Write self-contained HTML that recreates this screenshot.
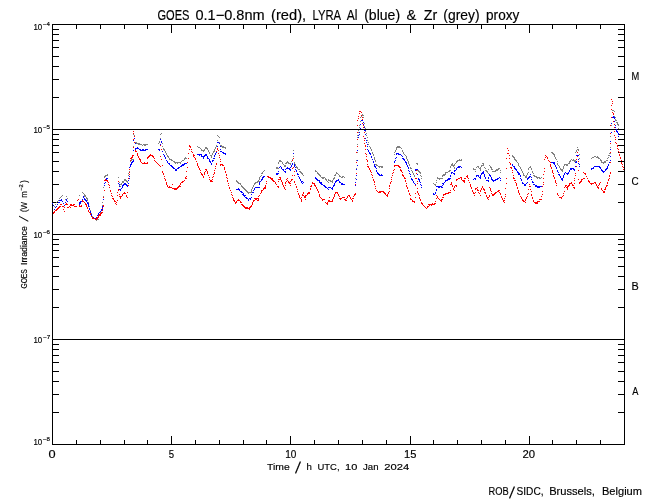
<!DOCTYPE html>
<html lang="en"><head><meta charset="utf-8"><title>GOES / LYRA proxy</title>
<style>html,body{margin:0;padding:0;background:#fff;}body{width:650px;height:500px;overflow:hidden;}svg{display:block;}text{font-family:"Liberation Sans",sans-serif;fill:#000;stroke:#000;stroke-width:0.16px;}</style>
</head><body>
<svg width="650" height="500" viewBox="0 0 650 500">
<rect width="650" height="500" fill="#fff"/>
<path shape-rendering="crispEdges" fill="#000" d="M52 24h573v1h-573zM52 444h573v1h-573zM52 24h1v421h-1zM624 24h1v421h-1zM76 440h1v4h-1zM76 25h1v4h-1zM100 440h1v4h-1zM100 25h1v4h-1zM124 440h1v4h-1zM124 25h1v4h-1zM147 440h1v4h-1zM147 25h1v4h-1zM171 436h1v8h-1zM171 25h1v8h-1zM195 440h1v4h-1zM195 25h1v4h-1zM219 440h1v4h-1zM219 25h1v4h-1zM243 440h1v4h-1zM243 25h1v4h-1zM266 440h1v4h-1zM266 25h1v4h-1zM290 436h1v8h-1zM290 25h1v8h-1zM314 440h1v4h-1zM314 25h1v4h-1zM338 440h1v4h-1zM338 25h1v4h-1zM362 440h1v4h-1zM362 25h1v4h-1zM386 440h1v4h-1zM386 25h1v4h-1zM410 436h1v8h-1zM410 25h1v8h-1zM433 440h1v4h-1zM433 25h1v4h-1zM457 440h1v4h-1zM457 25h1v4h-1zM481 440h1v4h-1zM481 25h1v4h-1zM505 440h1v4h-1zM505 25h1v4h-1zM529 436h1v8h-1zM529 25h1v8h-1zM552 440h1v4h-1zM552 25h1v4h-1zM576 440h1v4h-1zM576 25h1v4h-1zM600 440h1v4h-1zM600 25h1v4h-1zM53 97h6v1h-6zM618 97h6v1h-6zM53 79h6v1h-6zM618 79h6v1h-6zM53 66h6v1h-6zM618 66h6v1h-6zM53 56h6v1h-6zM618 56h6v1h-6zM53 47h6v1h-6zM618 47h6v1h-6zM53 40h6v1h-6zM618 40h6v1h-6zM53 34h6v1h-6zM618 34h6v1h-6zM53 29h6v1h-6zM618 29h6v1h-6zM52 129h573v1h-573zM53 202h6v1h-6zM618 202h6v1h-6zM53 184h6v1h-6zM618 184h6v1h-6zM53 171h6v1h-6zM618 171h6v1h-6zM53 161h6v1h-6zM618 161h6v1h-6zM53 152h6v1h-6zM618 152h6v1h-6zM53 145h6v1h-6zM618 145h6v1h-6zM53 139h6v1h-6zM618 139h6v1h-6zM53 134h6v1h-6zM618 134h6v1h-6zM52 234h573v1h-573zM53 307h6v1h-6zM618 307h6v1h-6zM53 289h6v1h-6zM618 289h6v1h-6zM53 276h6v1h-6zM618 276h6v1h-6zM53 266h6v1h-6zM618 266h6v1h-6zM53 257h6v1h-6zM618 257h6v1h-6zM53 250h6v1h-6zM618 250h6v1h-6zM53 244h6v1h-6zM618 244h6v1h-6zM53 239h6v1h-6zM618 239h6v1h-6zM52 339h573v1h-573zM53 412h6v1h-6zM618 412h6v1h-6zM53 394h6v1h-6zM618 394h6v1h-6zM53 381h6v1h-6zM618 381h6v1h-6zM53 371h6v1h-6zM618 371h6v1h-6zM53 362h6v1h-6zM618 362h6v1h-6zM53 355h6v1h-6zM618 355h6v1h-6zM53 349h6v1h-6zM618 349h6v1h-6zM53 344h6v1h-6zM618 344h6v1h-6z"/>
<path shape-rendering="crispEdges" fill="#808080" d="M54 206h1v1h-1zM55 204h1v1h-1zM56 202h1v1h-1zM57 201h1v1h-1zM58 200h1v1h-1zM59 198h1v1h-1zM60 197h1v1h-1zM61 196h1v1h-1zM62 195h1v1h-1zM65 199h1v1h-1zM66 196h1v1h-1zM67 198h1v1h-1zM79 195h1v1h-1zM82 192h1v1h-1zM83 193h1v1h-1zM84 194h1v1h-1zM84 195h1v1h-1zM84 196h1v1h-1zM85 195h1v1h-1zM85 196h1v1h-1zM86 197h1v1h-1zM86 198h1v1h-1zM87 198h1v1h-1zM87 199h1v1h-1zM87 200h1v1h-1zM88 202h1v1h-1zM88 204h1v1h-1zM89 206h1v1h-1zM89 208h1v1h-1zM90 210h1v1h-1zM90 211h1v1h-1zM90 212h1v1h-1zM91 213h1v1h-1zM91 215h1v1h-1zM92 216h1v1h-1zM92 217h1v1h-1zM93 217h1v1h-1zM93 218h1v1h-1zM94 218h1v1h-1zM95 219h1v1h-1zM96 219h1v1h-1zM96 220h1v1h-1zM97 219h1v1h-1zM98 216h1v1h-1zM98 217h1v1h-1zM98 219h1v1h-1zM99 214h1v1h-1zM99 215h1v1h-1zM100 211h1v1h-1zM100 212h1v1h-1zM100 213h1v1h-1zM101 209h1v1h-1zM101 210h1v1h-1zM102 202h1v1h-1zM102 205h1v1h-1zM102 208h1v1h-1zM103 187h1v1h-1zM103 196h1v1h-1zM103 199h1v1h-1zM104 176h1v1h-1zM104 177h1v1h-1zM105 175h1v1h-1zM105 176h1v1h-1zM106 175h1v1h-1zM107 174h1v1h-1zM107 175h1v1h-1zM118 177h1v1h-1zM119 182h1v1h-1zM119 185h1v1h-1zM119 186h1v1h-1zM120 184h1v1h-1zM120 186h1v1h-1zM121 183h1v1h-1zM121 184h1v1h-1zM122 181h1v1h-1zM122 182h1v1h-1zM123 181h1v1h-1zM123 182h1v1h-1zM124 179h1v1h-1zM124 180h1v1h-1zM125 179h1v1h-1zM125 180h1v1h-1zM126 180h1v1h-1zM126 181h1v1h-1zM127 181h1v1h-1zM127 182h1v1h-1zM128 173h1v1h-1zM128 175h1v1h-1zM128 178h1v1h-1zM129 169h1v1h-1zM129 171h1v1h-1zM130 160h1v1h-1zM130 161h1v1h-1zM130 166h1v1h-1zM131 159h1v1h-1zM131 160h1v1h-1zM132 159h1v1h-1zM133 134h1v1h-1zM133 146h1v1h-1zM133 159h1v1h-1zM134 135h1v1h-1zM134 136h1v1h-1zM135 142h1v1h-1zM135 143h1v1h-1zM136 142h1v1h-1zM136 143h1v1h-1zM137 143h1v1h-1zM138 143h1v1h-1zM138 144h1v1h-1zM139 143h1v1h-1zM139 144h1v1h-1zM140 144h1v1h-1zM141 144h1v1h-1zM142 145h1v1h-1zM143 144h1v1h-1zM144 144h1v1h-1zM144 145h1v1h-1zM145 144h1v1h-1zM145 145h1v1h-1zM146 144h1v1h-1zM147 144h1v1h-1zM158 143h1v1h-1zM159 141h1v1h-1zM159 142h1v1h-1zM160 134h1v1h-1zM160 138h1v1h-1zM160 139h1v1h-1zM161 133h1v1h-1zM161 141h1v1h-1zM162 143h1v1h-1zM162 146h1v1h-1zM163 148h1v1h-1zM163 149h1v1h-1zM164 149h1v1h-1zM164 150h1v1h-1zM165 151h1v1h-1zM165 152h1v1h-1zM166 153h1v1h-1zM166 154h1v1h-1zM167 155h1v1h-1zM167 156h1v1h-1zM168 156h1v1h-1zM168 157h1v1h-1zM169 158h1v1h-1zM169 159h1v1h-1zM170 159h1v1h-1zM171 159h1v1h-1zM171 160h1v1h-1zM172 160h1v1h-1zM173 161h1v1h-1zM174 161h1v1h-1zM174 162h1v1h-1zM175 162h1v1h-1zM175 163h1v1h-1zM176 162h1v1h-1zM177 162h1v1h-1zM177 163h1v1h-1zM178 162h1v1h-1zM179 162h1v1h-1zM180 162h1v1h-1zM180 163h1v1h-1zM181 161h1v1h-1zM182 160h1v1h-1zM183 160h1v1h-1zM184 158h1v1h-1zM184 159h1v1h-1zM185 157h1v1h-1zM185 158h1v1h-1zM186 158h1v1h-1zM197 146h1v1h-1zM198 147h1v1h-1zM199 147h1v1h-1zM200 148h1v1h-1zM201 149h1v1h-1zM201 150h1v1h-1zM202 150h1v1h-1zM203 150h1v1h-1zM203 151h1v1h-1zM204 149h1v1h-1zM204 150h1v1h-1zM205 147h1v1h-1zM205 148h1v1h-1zM206 147h1v1h-1zM206 148h1v1h-1zM207 148h1v1h-1zM207 149h1v1h-1zM208 150h1v1h-1zM208 151h1v1h-1zM209 152h1v1h-1zM209 153h1v1h-1zM210 155h1v1h-1zM211 155h1v1h-1zM211 156h1v1h-1zM211 157h1v1h-1zM212 153h1v1h-1zM212 154h1v1h-1zM213 151h1v1h-1zM213 152h1v1h-1zM214 149h1v1h-1zM214 150h1v1h-1zM214 151h1v1h-1zM215 147h1v1h-1zM215 148h1v1h-1zM216 145h1v1h-1zM216 146h1v1h-1zM217 135h1v1h-1zM217 140h1v1h-1zM218 136h1v1h-1zM219 137h1v1h-1zM219 142h1v1h-1zM220 145h1v1h-1zM221 145h1v1h-1zM221 146h1v1h-1zM222 146h1v1h-1zM222 147h1v1h-1zM223 146h1v1h-1zM223 147h1v1h-1zM224 147h1v1h-1zM225 147h1v1h-1zM225 148h1v1h-1zM236 180h1v1h-1zM236 181h1v1h-1zM237 181h1v1h-1zM237 182h1v1h-1zM238 182h1v1h-1zM238 183h1v1h-1zM239 183h1v1h-1zM240 183h1v1h-1zM240 184h1v1h-1zM241 185h1v1h-1zM241 186h1v1h-1zM242 186h1v1h-1zM242 187h1v1h-1zM243 187h1v1h-1zM243 188h1v1h-1zM244 188h1v1h-1zM244 189h1v1h-1zM245 189h1v1h-1zM245 190h1v1h-1zM246 190h1v1h-1zM246 191h1v1h-1zM247 191h1v1h-1zM247 192h1v1h-1zM248 192h1v1h-1zM248 193h1v1h-1zM249 192h1v1h-1zM250 192h1v1h-1zM251 189h1v1h-1zM251 190h1v1h-1zM251 191h1v1h-1zM251 192h1v1h-1zM252 187h1v1h-1zM252 188h1v1h-1zM253 185h1v1h-1zM253 186h1v1h-1zM254 183h1v1h-1zM254 184h1v1h-1zM255 182h1v1h-1zM255 183h1v1h-1zM256 182h1v1h-1zM257 181h1v1h-1zM257 182h1v1h-1zM258 180h1v1h-1zM258 181h1v1h-1zM259 177h1v1h-1zM259 178h1v1h-1zM259 179h1v1h-1zM259 181h1v1h-1zM260 176h1v1h-1zM261 173h1v1h-1zM261 175h1v1h-1zM262 172h1v1h-1zM262 173h1v1h-1zM263 171h1v1h-1zM264 170h1v1h-1zM276 167h1v1h-1zM276 168h1v1h-1zM277 167h1v1h-1zM277 168h1v1h-1zM278 162h1v1h-1zM278 163h1v1h-1zM278 168h1v1h-1zM279 160h1v1h-1zM279 161h1v1h-1zM280 160h1v1h-1zM280 161h1v1h-1zM281 161h1v1h-1zM282 162h1v1h-1zM282 163h1v1h-1zM283 164h1v1h-1zM284 165h1v1h-1zM284 166h1v1h-1zM285 163h1v1h-1zM285 165h1v1h-1zM285 166h1v1h-1zM286 162h1v1h-1zM286 163h1v1h-1zM287 161h1v1h-1zM287 162h1v1h-1zM288 162h1v1h-1zM288 163h1v1h-1zM289 163h1v1h-1zM290 163h1v1h-1zM290 164h1v1h-1zM291 161h1v1h-1zM292 159h1v1h-1zM292 160h1v1h-1zM293 150h1v1h-1zM293 156h1v1h-1zM294 162h1v1h-1zM294 163h1v1h-1zM295 164h1v1h-1zM295 165h1v1h-1zM296 166h1v1h-1zM296 167h1v1h-1zM297 167h1v1h-1zM297 168h1v1h-1zM298 169h1v1h-1zM299 169h1v1h-1zM299 171h1v1h-1zM300 171h1v1h-1zM300 172h1v1h-1zM301 172h1v1h-1zM301 173h1v1h-1zM302 173h1v1h-1zM302 174h1v1h-1zM303 175h1v1h-1zM315 170h1v1h-1zM315 171h1v1h-1zM316 171h1v1h-1zM317 172h1v1h-1zM317 173h1v1h-1zM318 173h1v1h-1zM318 174h1v1h-1zM319 174h1v1h-1zM319 175h1v1h-1zM320 175h1v1h-1zM320 176h1v1h-1zM321 177h1v1h-1zM322 177h1v1h-1zM322 178h1v1h-1zM323 177h1v1h-1zM323 178h1v1h-1zM324 177h1v1h-1zM325 178h1v1h-1zM325 179h1v1h-1zM326 179h1v1h-1zM326 180h1v1h-1zM327 181h1v1h-1zM328 179h1v1h-1zM328 180h1v1h-1zM328 182h1v1h-1zM329 180h1v1h-1zM330 180h1v1h-1zM330 181h1v1h-1zM331 181h1v1h-1zM332 180h1v1h-1zM332 181h1v1h-1zM332 182h1v1h-1zM333 178h1v1h-1zM333 179h1v1h-1zM334 175h1v1h-1zM334 177h1v1h-1zM334 178h1v1h-1zM335 174h1v1h-1zM335 175h1v1h-1zM336 172h1v1h-1zM336 173h1v1h-1zM337 173h1v1h-1zM338 174h1v1h-1zM339 175h1v1h-1zM339 176h1v1h-1zM340 176h1v1h-1zM341 177h1v1h-1zM342 176h1v1h-1zM342 177h1v1h-1zM343 176h1v1h-1zM344 177h1v1h-1zM355 178h1v1h-1zM356 160h1v1h-1zM356 168h1v1h-1zM356 173h1v1h-1zM357 135h1v1h-1zM357 137h1v1h-1zM357 144h1v1h-1zM357 152h1v1h-1zM358 130h1v1h-1zM358 132h1v1h-1zM359 125h1v1h-1zM359 127h1v1h-1zM360 117h1v1h-1zM360 121h1v1h-1zM361 115h1v1h-1zM361 116h1v1h-1zM362 114h1v1h-1zM362 115h1v1h-1zM363 115h1v1h-1zM363 117h1v1h-1zM364 123h1v1h-1zM364 126h1v1h-1zM365 128h1v1h-1zM365 130h1v1h-1zM365 131h1v1h-1zM366 133h1v1h-1zM366 135h1v1h-1zM367 137h1v1h-1zM367 140h1v1h-1zM368 142h1v1h-1zM368 144h1v1h-1zM369 146h1v1h-1zM370 147h1v1h-1zM370 148h1v1h-1zM371 149h1v1h-1zM371 150h1v1h-1zM372 152h1v1h-1zM372 153h1v1h-1zM373 154h1v1h-1zM373 155h1v1h-1zM374 157h1v1h-1zM374 158h1v1h-1zM374 159h1v1h-1zM375 160h1v1h-1zM375 161h1v1h-1zM375 164h1v1h-1zM376 164h1v1h-1zM376 165h1v1h-1zM377 165h1v1h-1zM378 166h1v1h-1zM379 166h1v1h-1zM379 167h1v1h-1zM380 166h1v1h-1zM381 166h1v1h-1zM381 167h1v1h-1zM382 166h1v1h-1zM382 167h1v1h-1zM394 152h1v1h-1zM394 154h1v1h-1zM395 150h1v1h-1zM395 151h1v1h-1zM396 147h1v1h-1zM396 148h1v1h-1zM396 149h1v1h-1zM397 146h1v1h-1zM397 147h1v1h-1zM398 146h1v1h-1zM398 147h1v1h-1zM399 146h1v1h-1zM399 147h1v1h-1zM400 147h1v1h-1zM401 148h1v1h-1zM402 150h1v1h-1zM402 151h1v1h-1zM403 152h1v1h-1zM403 153h1v1h-1zM404 154h1v1h-1zM405 155h1v1h-1zM406 156h1v1h-1zM406 157h1v1h-1zM406 158h1v1h-1zM407 159h1v1h-1zM407 160h1v1h-1zM408 161h1v1h-1zM408 162h1v1h-1zM408 163h1v1h-1zM409 164h1v1h-1zM409 165h1v1h-1zM410 167h1v1h-1zM410 168h1v1h-1zM411 168h1v1h-1zM411 170h1v1h-1zM412 171h1v1h-1zM412 172h1v1h-1zM413 173h1v1h-1zM413 174h1v1h-1zM414 175h1v1h-1zM414 176h1v1h-1zM416 163h1v1h-1zM417 163h1v1h-1zM417 164h1v1h-1zM417 169h1v1h-1zM417 170h1v1h-1zM418 170h1v1h-1zM418 171h1v1h-1zM419 171h1v1h-1zM419 172h1v1h-1zM420 172h1v1h-1zM420 173h1v1h-1zM420 175h1v1h-1zM421 176h1v1h-1zM421 178h1v1h-1zM433 183h1v1h-1zM434 184h1v1h-1zM435 184h1v1h-1zM435 185h1v1h-1zM436 180h1v1h-1zM436 182h1v1h-1zM437 177h1v1h-1zM437 178h1v1h-1zM438 178h1v1h-1zM439 178h1v1h-1zM439 179h1v1h-1zM440 178h1v1h-1zM441 178h1v1h-1zM442 175h1v1h-1zM442 176h1v1h-1zM442 178h1v1h-1zM443 174h1v1h-1zM443 175h1v1h-1zM444 174h1v1h-1zM444 175h1v1h-1zM445 172h1v1h-1zM445 173h1v1h-1zM445 174h1v1h-1zM446 172h1v1h-1zM447 172h1v1h-1zM448 171h1v1h-1zM449 170h1v1h-1zM449 171h1v1h-1zM450 166h1v1h-1zM450 167h1v1h-1zM450 170h1v1h-1zM451 164h1v1h-1zM451 165h1v1h-1zM452 163h1v1h-1zM452 164h1v1h-1zM452 165h1v1h-1zM453 165h1v1h-1zM453 166h1v1h-1zM454 164h1v1h-1zM454 165h1v1h-1zM454 167h1v1h-1zM454 168h1v1h-1zM455 163h1v1h-1zM456 161h1v1h-1zM456 162h1v1h-1zM457 160h1v1h-1zM457 161h1v1h-1zM458 160h1v1h-1zM459 159h1v1h-1zM459 160h1v1h-1zM460 160h1v1h-1zM461 159h1v1h-1zM461 160h1v1h-1zM473 168h1v1h-1zM473 169h1v1h-1zM474 169h1v1h-1zM475 169h1v1h-1zM475 171h1v1h-1zM476 167h1v1h-1zM477 166h1v1h-1zM478 166h1v1h-1zM478 167h1v1h-1zM479 168h1v1h-1zM480 167h1v1h-1zM480 168h1v1h-1zM480 169h1v1h-1zM480 170h1v1h-1zM481 165h1v1h-1zM481 166h1v1h-1zM482 163h1v1h-1zM482 165h1v1h-1zM483 163h1v1h-1zM483 164h1v1h-1zM483 165h1v1h-1zM484 167h1v1h-1zM485 168h1v1h-1zM485 170h1v1h-1zM486 170h1v1h-1zM486 171h1v1h-1zM487 171h1v1h-1zM487 172h1v1h-1zM488 169h1v1h-1zM488 173h1v1h-1zM489 165h1v1h-1zM490 166h1v1h-1zM490 167h1v1h-1zM491 167h1v1h-1zM491 168h1v1h-1zM491 169h1v1h-1zM492 169h1v1h-1zM492 171h1v1h-1zM493 171h1v1h-1zM494 171h1v1h-1zM495 170h1v1h-1zM495 171h1v1h-1zM496 169h1v1h-1zM496 170h1v1h-1zM497 169h1v1h-1zM497 170h1v1h-1zM498 168h1v1h-1zM498 169h1v1h-1zM499 168h1v1h-1zM500 170h1v1h-1zM500 172h1v1h-1zM512 155h1v1h-1zM512 156h1v1h-1zM513 156h1v1h-1zM513 157h1v1h-1zM514 157h1v1h-1zM514 158h1v1h-1zM514 159h1v1h-1zM515 159h1v1h-1zM515 160h1v1h-1zM516 160h1v1h-1zM516 161h1v1h-1zM517 162h1v1h-1zM518 163h1v1h-1zM518 164h1v1h-1zM518 165h1v1h-1zM519 166h1v1h-1zM520 167h1v1h-1zM520 168h1v1h-1zM521 169h1v1h-1zM521 170h1v1h-1zM522 171h1v1h-1zM522 172h1v1h-1zM523 173h1v1h-1zM523 174h1v1h-1zM523 175h1v1h-1zM524 175h1v1h-1zM525 176h1v1h-1zM525 177h1v1h-1zM526 175h1v1h-1zM526 176h1v1h-1zM526 177h1v1h-1zM527 173h1v1h-1zM527 174h1v1h-1zM528 168h1v1h-1zM528 169h1v1h-1zM528 172h1v1h-1zM529 167h1v1h-1zM530 166h1v1h-1zM530 167h1v1h-1zM531 168h1v1h-1zM531 169h1v1h-1zM532 171h1v1h-1zM532 172h1v1h-1zM533 173h1v1h-1zM533 175h1v1h-1zM534 175h1v1h-1zM534 176h1v1h-1zM535 176h1v1h-1zM536 176h1v1h-1zM536 177h1v1h-1zM537 177h1v1h-1zM537 178h1v1h-1zM538 177h1v1h-1zM539 177h1v1h-1zM539 178h1v1h-1zM540 178h1v1h-1zM541 177h1v1h-1zM551 152h1v1h-1zM552 152h1v1h-1zM552 153h1v1h-1zM553 153h1v1h-1zM553 154h1v1h-1zM554 154h1v1h-1zM554 155h1v1h-1zM554 156h1v1h-1zM555 157h1v1h-1zM555 158h1v1h-1zM556 159h1v1h-1zM557 161h1v1h-1zM557 163h1v1h-1zM557 164h1v1h-1zM558 165h1v1h-1zM559 166h1v1h-1zM559 167h1v1h-1zM560 168h1v1h-1zM560 169h1v1h-1zM561 169h1v1h-1zM561 170h1v1h-1zM562 169h1v1h-1zM562 170h1v1h-1zM562 171h1v1h-1zM563 166h1v1h-1zM563 167h1v1h-1zM563 168h1v1h-1zM564 164h1v1h-1zM564 165h1v1h-1zM565 164h1v1h-1zM566 164h1v1h-1zM566 165h1v1h-1zM567 164h1v1h-1zM567 165h1v1h-1zM568 163h1v1h-1zM569 161h1v1h-1zM569 162h1v1h-1zM569 163h1v1h-1zM570 160h1v1h-1zM570 161h1v1h-1zM571 159h1v1h-1zM572 160h1v1h-1zM573 159h1v1h-1zM573 160h1v1h-1zM574 160h1v1h-1zM574 161h1v1h-1zM575 152h1v1h-1zM575 160h1v1h-1zM575 161h1v1h-1zM576 150h1v1h-1zM576 151h1v1h-1zM577 147h1v1h-1zM577 149h1v1h-1zM578 149h1v1h-1zM578 150h1v1h-1zM579 154h1v1h-1zM579 158h1v1h-1zM591 158h1v1h-1zM592 157h1v1h-1zM593 157h1v1h-1zM594 156h1v1h-1zM595 156h1v1h-1zM596 157h1v1h-1zM597 156h1v1h-1zM597 157h1v1h-1zM598 157h1v1h-1zM598 158h1v1h-1zM599 158h1v1h-1zM600 159h1v1h-1zM600 160h1v1h-1zM601 160h1v1h-1zM601 161h1v1h-1zM601 162h1v1h-1zM602 162h1v1h-1zM603 162h1v1h-1zM603 163h1v1h-1zM604 161h1v1h-1zM604 162h1v1h-1zM605 161h1v1h-1zM605 162h1v1h-1zM606 160h1v1h-1zM607 158h1v1h-1zM607 160h1v1h-1zM608 155h1v1h-1zM608 157h1v1h-1zM609 153h1v1h-1zM609 155h1v1h-1zM610 136h1v1h-1zM610 147h1v1h-1zM610 153h1v1h-1zM611 117h1v1h-1zM611 125h1v1h-1zM612 110h1v1h-1zM613 110h1v1h-1zM614 111h1v1h-1zM614 116h1v1h-1zM615 117h1v1h-1zM615 119h1v1h-1zM615 120h1v1h-1zM616 120h1v1h-1zM616 122h1v1h-1zM617 122h1v1h-1zM617 123h1v1h-1zM617 124h1v1h-1zM618 124h1v1h-1zM618 125h1v1h-1zM618 128h1v1h-1z"/>
<path shape-rendering="crispEdges" fill="#0000ff" d="M52 203h1v1h-1zM53 205h1v1h-1zM54 209h1v1h-1zM55 207h1v1h-1zM56 206h1v1h-1zM57 204h1v1h-1zM58 202h1v1h-1zM59 200h1v1h-1zM59 202h1v1h-1zM60 200h1v1h-1zM61 199h1v1h-1zM61 200h1v1h-1zM62 201h1v1h-1zM63 203h1v1h-1zM64 205h1v1h-1zM65 202h1v1h-1zM66 199h1v1h-1zM66 200h1v1h-1zM67 201h1v1h-1zM79 202h1v1h-1zM79 203h1v1h-1zM79 204h1v1h-1zM80 201h1v1h-1zM80 202h1v1h-1zM80 203h1v1h-1zM81 201h1v1h-1zM82 199h1v1h-1zM82 201h1v1h-1zM83 196h1v1h-1zM83 197h1v1h-1zM84 198h1v1h-1zM84 199h1v1h-1zM85 199h1v1h-1zM85 200h1v1h-1zM86 200h1v1h-1zM86 201h1v1h-1zM87 202h1v1h-1zM87 203h1v1h-1zM88 203h1v1h-1zM88 204h1v1h-1zM88 205h1v1h-1zM88 206h1v1h-1zM89 208h1v1h-1zM89 209h1v1h-1zM90 211h1v1h-1zM90 212h1v1h-1zM90 213h1v1h-1zM91 214h1v1h-1zM91 215h1v1h-1zM92 217h1v1h-1zM93 217h1v1h-1zM93 218h1v1h-1zM94 218h1v1h-1zM95 218h1v1h-1zM96 217h1v1h-1zM96 218h1v1h-1zM96 219h1v1h-1zM97 215h1v1h-1zM98 213h1v1h-1zM98 214h1v1h-1zM98 215h1v1h-1zM99 212h1v1h-1zM100 211h1v1h-1zM101 209h1v1h-1zM101 210h1v1h-1zM102 206h1v1h-1zM102 207h1v1h-1zM102 209h1v1h-1zM103 199h1v1h-1zM103 205h1v1h-1zM104 183h1v1h-1zM104 185h1v1h-1zM104 190h1v1h-1zM105 180h1v1h-1zM105 182h1v1h-1zM106 178h1v1h-1zM106 179h1v1h-1zM107 178h1v1h-1zM118 183h1v1h-1zM119 184h1v1h-1zM119 186h1v1h-1zM119 189h1v1h-1zM120 189h1v1h-1zM120 190h1v1h-1zM121 188h1v1h-1zM122 185h1v1h-1zM122 186h1v1h-1zM122 187h1v1h-1zM123 184h1v1h-1zM123 185h1v1h-1zM124 183h1v1h-1zM124 184h1v1h-1zM125 183h1v1h-1zM125 184h1v1h-1zM126 184h1v1h-1zM126 185h1v1h-1zM127 185h1v1h-1zM127 186h1v1h-1zM128 180h1v1h-1zM128 183h1v1h-1zM129 167h1v1h-1zM129 169h1v1h-1zM129 176h1v1h-1zM129 178h1v1h-1zM130 164h1v1h-1zM130 165h1v1h-1zM130 166h1v1h-1zM131 162h1v1h-1zM131 163h1v1h-1zM131 164h1v1h-1zM132 161h1v1h-1zM132 162h1v1h-1zM133 140h1v1h-1zM133 150h1v1h-1zM133 160h1v1h-1zM133 161h1v1h-1zM134 138h1v1h-1zM135 143h1v1h-1zM135 148h1v1h-1zM135 149h1v1h-1zM136 148h1v1h-1zM137 147h1v1h-1zM137 148h1v1h-1zM138 148h1v1h-1zM139 149h1v1h-1zM140 149h1v1h-1zM140 150h1v1h-1zM141 150h1v1h-1zM142 149h1v1h-1zM142 150h1v1h-1zM143 149h1v1h-1zM143 150h1v1h-1zM144 150h1v1h-1zM145 149h1v1h-1zM145 150h1v1h-1zM146 149h1v1h-1zM147 149h1v1h-1zM158 149h1v1h-1zM159 149h1v1h-1zM159 150h1v1h-1zM160 139h1v1h-1zM160 144h1v1h-1zM161 141h1v1h-1zM161 142h1v1h-1zM162 151h1v1h-1zM163 154h1v1h-1zM164 155h1v1h-1zM164 156h1v1h-1zM165 157h1v1h-1zM165 158h1v1h-1zM166 160h1v1h-1zM167 161h1v1h-1zM167 162h1v1h-1zM168 163h1v1h-1zM169 163h1v1h-1zM169 164h1v1h-1zM170 165h1v1h-1zM171 165h1v1h-1zM171 166h1v1h-1zM172 166h1v1h-1zM172 167h1v1h-1zM173 167h1v1h-1zM173 168h1v1h-1zM174 168h1v1h-1zM175 169h1v1h-1zM175 170h1v1h-1zM176 169h1v1h-1zM176 170h1v1h-1zM177 168h1v1h-1zM178 167h1v1h-1zM178 168h1v1h-1zM179 167h1v1h-1zM180 166h1v1h-1zM181 165h1v1h-1zM181 166h1v1h-1zM182 164h1v1h-1zM182 165h1v1h-1zM183 164h1v1h-1zM183 165h1v1h-1zM184 163h1v1h-1zM184 164h1v1h-1zM185 163h1v1h-1zM186 163h1v1h-1zM197 154h1v1h-1zM198 154h1v1h-1zM199 154h1v1h-1zM199 155h1v1h-1zM200 154h1v1h-1zM201 154h1v1h-1zM201 155h1v1h-1zM201 156h1v1h-1zM202 156h1v1h-1zM203 156h1v1h-1zM203 157h1v1h-1zM203 158h1v1h-1zM204 155h1v1h-1zM204 156h1v1h-1zM205 154h1v1h-1zM205 155h1v1h-1zM206 154h1v1h-1zM206 155h1v1h-1zM207 156h1v1h-1zM207 157h1v1h-1zM207 158h1v1h-1zM208 158h1v1h-1zM209 159h1v1h-1zM209 160h1v1h-1zM209 161h1v1h-1zM210 161h1v1h-1zM210 162h1v1h-1zM211 163h1v1h-1zM211 164h1v1h-1zM212 160h1v1h-1zM212 161h1v1h-1zM213 158h1v1h-1zM213 160h1v1h-1zM214 155h1v1h-1zM214 156h1v1h-1zM214 158h1v1h-1zM215 153h1v1h-1zM215 154h1v1h-1zM216 151h1v1h-1zM216 152h1v1h-1zM217 142h1v1h-1zM217 146h1v1h-1zM218 142h1v1h-1zM219 143h1v1h-1zM220 146h1v1h-1zM220 149h1v1h-1zM220 151h1v1h-1zM221 151h1v1h-1zM222 152h1v1h-1zM223 152h1v1h-1zM223 153h1v1h-1zM224 153h1v1h-1zM225 153h1v1h-1zM225 154h1v1h-1zM236 189h1v1h-1zM237 189h1v1h-1zM238 188h1v1h-1zM238 189h1v1h-1zM239 189h1v1h-1zM239 190h1v1h-1zM240 191h1v1h-1zM241 191h1v1h-1zM241 192h1v1h-1zM242 192h1v1h-1zM242 194h1v1h-1zM243 193h1v1h-1zM243 194h1v1h-1zM243 195h1v1h-1zM244 195h1v1h-1zM244 196h1v1h-1zM245 195h1v1h-1zM245 197h1v1h-1zM246 197h1v1h-1zM246 198h1v1h-1zM247 198h1v1h-1zM248 199h1v1h-1zM248 200h1v1h-1zM249 198h1v1h-1zM250 198h1v1h-1zM250 199h1v1h-1zM251 194h1v1h-1zM251 197h1v1h-1zM252 192h1v1h-1zM253 190h1v1h-1zM253 192h1v1h-1zM254 188h1v1h-1zM254 189h1v1h-1zM255 187h1v1h-1zM256 187h1v1h-1zM257 187h1v1h-1zM258 187h1v1h-1zM259 182h1v1h-1zM259 183h1v1h-1zM259 184h1v1h-1zM259 187h1v1h-1zM260 181h1v1h-1zM261 179h1v1h-1zM261 180h1v1h-1zM262 177h1v1h-1zM262 178h1v1h-1zM262 179h1v1h-1zM263 176h1v1h-1zM263 177h1v1h-1zM264 176h1v1h-1zM276 173h1v1h-1zM276 174h1v1h-1zM277 173h1v1h-1zM277 174h1v1h-1zM278 171h1v1h-1zM278 173h1v1h-1zM279 167h1v1h-1zM280 166h1v1h-1zM281 167h1v1h-1zM281 168h1v1h-1zM282 169h1v1h-1zM283 169h1v1h-1zM283 170h1v1h-1zM284 171h1v1h-1zM285 169h1v1h-1zM285 171h1v1h-1zM285 172h1v1h-1zM286 168h1v1h-1zM287 167h1v1h-1zM287 168h1v1h-1zM288 168h1v1h-1zM289 168h1v1h-1zM289 169h1v1h-1zM290 167h1v1h-1zM290 169h1v1h-1zM290 170h1v1h-1zM291 165h1v1h-1zM291 166h1v1h-1zM292 163h1v1h-1zM292 164h1v1h-1zM293 153h1v1h-1zM293 158h1v1h-1zM294 164h1v1h-1zM294 165h1v1h-1zM294 166h1v1h-1zM295 167h1v1h-1zM295 169h1v1h-1zM296 170h1v1h-1zM296 171h1v1h-1zM297 173h1v1h-1zM297 174h1v1h-1zM298 174h1v1h-1zM298 176h1v1h-1zM299 177h1v1h-1zM299 178h1v1h-1zM300 179h1v1h-1zM300 180h1v1h-1zM301 181h1v1h-1zM301 182h1v1h-1zM302 181h1v1h-1zM302 183h1v1h-1zM303 182h1v1h-1zM315 177h1v1h-1zM315 178h1v1h-1zM316 178h1v1h-1zM316 179h1v1h-1zM317 179h1v1h-1zM317 180h1v1h-1zM318 180h1v1h-1zM319 180h1v1h-1zM319 181h1v1h-1zM319 182h1v1h-1zM320 182h1v1h-1zM320 183h1v1h-1zM321 182h1v1h-1zM321 183h1v1h-1zM321 184h1v1h-1zM322 184h1v1h-1zM323 185h1v1h-1zM324 185h1v1h-1zM324 186h1v1h-1zM325 186h1v1h-1zM325 187h1v1h-1zM326 187h1v1h-1zM327 188h1v1h-1zM328 187h1v1h-1zM328 189h1v1h-1zM329 187h1v1h-1zM330 187h1v1h-1zM331 188h1v1h-1zM332 187h1v1h-1zM332 188h1v1h-1zM332 189h1v1h-1zM333 185h1v1h-1zM333 186h1v1h-1zM334 183h1v1h-1zM334 184h1v1h-1zM334 185h1v1h-1zM335 181h1v1h-1zM335 182h1v1h-1zM336 180h1v1h-1zM336 181h1v1h-1zM337 180h1v1h-1zM338 179h1v1h-1zM338 180h1v1h-1zM339 181h1v1h-1zM339 182h1v1h-1zM340 182h1v1h-1zM341 183h1v1h-1zM341 184h1v1h-1zM342 183h1v1h-1zM342 184h1v1h-1zM343 184h1v1h-1zM344 184h1v1h-1zM355 182h1v1h-1zM355 185h1v1h-1zM356 169h1v1h-1zM356 175h1v1h-1zM356 179h1v1h-1zM357 139h1v1h-1zM357 150h1v1h-1zM357 160h1v1h-1zM357 165h1v1h-1zM358 135h1v1h-1zM358 137h1v1h-1zM359 132h1v1h-1zM359 134h1v1h-1zM360 124h1v1h-1zM360 128h1v1h-1zM361 120h1v1h-1zM362 120h1v1h-1zM363 122h1v1h-1zM363 124h1v1h-1zM364 127h1v1h-1zM364 130h1v1h-1zM365 130h1v1h-1zM365 134h1v1h-1zM365 138h1v1h-1zM366 140h1v1h-1zM366 142h1v1h-1zM367 144h1v1h-1zM367 146h1v1h-1zM367 149h1v1h-1zM368 150h1v1h-1zM368 151h1v1h-1zM369 152h1v1h-1zM369 153h1v1h-1zM370 153h1v1h-1zM370 154h1v1h-1zM371 156h1v1h-1zM371 157h1v1h-1zM372 159h1v1h-1zM373 161h1v1h-1zM373 162h1v1h-1zM374 164h1v1h-1zM374 165h1v1h-1zM374 166h1v1h-1zM375 166h1v1h-1zM375 167h1v1h-1zM376 168h1v1h-1zM376 170h1v1h-1zM376 171h1v1h-1zM377 172h1v1h-1zM377 173h1v1h-1zM378 173h1v1h-1zM378 174h1v1h-1zM379 174h1v1h-1zM379 175h1v1h-1zM380 175h1v1h-1zM381 174h1v1h-1zM381 175h1v1h-1zM382 175h1v1h-1zM394 161h1v1h-1zM394 162h1v1h-1zM395 158h1v1h-1zM395 160h1v1h-1zM396 153h1v1h-1zM396 154h1v1h-1zM396 157h1v1h-1zM397 153h1v1h-1zM398 153h1v1h-1zM398 154h1v1h-1zM399 154h1v1h-1zM400 154h1v1h-1zM401 155h1v1h-1zM402 156h1v1h-1zM402 158h1v1h-1zM403 158h1v1h-1zM403 159h1v1h-1zM404 159h1v1h-1zM404 160h1v1h-1zM405 161h1v1h-1zM405 162h1v1h-1zM406 162h1v1h-1zM406 163h1v1h-1zM406 164h1v1h-1zM407 165h1v1h-1zM407 166h1v1h-1zM408 167h1v1h-1zM408 168h1v1h-1zM408 170h1v1h-1zM409 171h1v1h-1zM409 173h1v1h-1zM410 174h1v1h-1zM410 176h1v1h-1zM411 178h1v1h-1zM411 179h1v1h-1zM412 179h1v1h-1zM412 180h1v1h-1zM413 181h1v1h-1zM413 182h1v1h-1zM414 183h1v1h-1zM415 169h1v1h-1zM415 170h1v1h-1zM415 184h1v1h-1zM416 169h1v1h-1zM416 170h1v1h-1zM417 169h1v1h-1zM417 174h1v1h-1zM418 178h1v1h-1zM418 179h1v1h-1zM419 179h1v1h-1zM419 180h1v1h-1zM419 181h1v1h-1zM420 182h1v1h-1zM420 184h1v1h-1zM421 185h1v1h-1zM421 187h1v1h-1zM433 193h1v1h-1zM433 194h1v1h-1zM434 194h1v1h-1zM435 192h1v1h-1zM435 193h1v1h-1zM436 186h1v1h-1zM436 189h1v1h-1zM436 190h1v1h-1zM437 186h1v1h-1zM438 186h1v1h-1zM438 187h1v1h-1zM439 186h1v1h-1zM439 187h1v1h-1zM440 186h1v1h-1zM441 186h1v1h-1zM441 187h1v1h-1zM442 183h1v1h-1zM442 185h1v1h-1zM442 187h1v1h-1zM443 183h1v1h-1zM443 184h1v1h-1zM444 182h1v1h-1zM445 180h1v1h-1zM445 181h1v1h-1zM446 180h1v1h-1zM447 179h1v1h-1zM447 180h1v1h-1zM448 178h1v1h-1zM448 179h1v1h-1zM449 178h1v1h-1zM449 179h1v1h-1zM450 175h1v1h-1zM450 176h1v1h-1zM450 178h1v1h-1zM451 172h1v1h-1zM451 173h1v1h-1zM452 172h1v1h-1zM453 173h1v1h-1zM454 170h1v1h-1zM454 171h1v1h-1zM454 173h1v1h-1zM454 174h1v1h-1zM455 170h1v1h-1zM456 168h1v1h-1zM456 169h1v1h-1zM457 167h1v1h-1zM458 166h1v1h-1zM458 167h1v1h-1zM459 166h1v1h-1zM459 167h1v1h-1zM460 166h1v1h-1zM461 167h1v1h-1zM473 179h1v1h-1zM474 178h1v1h-1zM475 178h1v1h-1zM475 179h1v1h-1zM476 175h1v1h-1zM476 176h1v1h-1zM477 175h1v1h-1zM478 175h1v1h-1zM478 176h1v1h-1zM479 177h1v1h-1zM480 175h1v1h-1zM480 176h1v1h-1zM480 177h1v1h-1zM480 178h1v1h-1zM481 173h1v1h-1zM481 174h1v1h-1zM482 172h1v1h-1zM482 173h1v1h-1zM483 171h1v1h-1zM483 172h1v1h-1zM483 173h1v1h-1zM484 174h1v1h-1zM484 175h1v1h-1zM484 176h1v1h-1zM485 177h1v1h-1zM485 178h1v1h-1zM486 180h1v1h-1zM487 180h1v1h-1zM488 177h1v1h-1zM488 178h1v1h-1zM488 180h1v1h-1zM488 181h1v1h-1zM489 174h1v1h-1zM489 175h1v1h-1zM490 175h1v1h-1zM490 176h1v1h-1zM491 177h1v1h-1zM491 178h1v1h-1zM491 179h1v1h-1zM492 179h1v1h-1zM492 180h1v1h-1zM493 180h1v1h-1zM493 181h1v1h-1zM494 180h1v1h-1zM495 179h1v1h-1zM495 180h1v1h-1zM496 179h1v1h-1zM497 178h1v1h-1zM497 179h1v1h-1zM498 178h1v1h-1zM499 177h1v1h-1zM500 178h1v1h-1zM500 180h1v1h-1zM512 164h1v1h-1zM512 165h1v1h-1zM513 166h1v1h-1zM514 166h1v1h-1zM514 167h1v1h-1zM514 168h1v1h-1zM515 168h1v1h-1zM515 169h1v1h-1zM516 169h1v1h-1zM516 170h1v1h-1zM517 171h1v1h-1zM517 172h1v1h-1zM518 172h1v1h-1zM518 173h1v1h-1zM518 174h1v1h-1zM519 173h1v1h-1zM519 174h1v1h-1zM520 175h1v1h-1zM520 176h1v1h-1zM520 178h1v1h-1zM521 179h1v1h-1zM521 180h1v1h-1zM522 182h1v1h-1zM522 183h1v1h-1zM523 183h1v1h-1zM524 184h1v1h-1zM524 185h1v1h-1zM525 184h1v1h-1zM525 185h1v1h-1zM526 183h1v1h-1zM527 178h1v1h-1zM527 179h1v1h-1zM527 182h1v1h-1zM528 177h1v1h-1zM528 178h1v1h-1zM529 176h1v1h-1zM529 177h1v1h-1zM530 174h1v1h-1zM530 176h1v1h-1zM531 177h1v1h-1zM531 179h1v1h-1zM532 181h1v1h-1zM532 182h1v1h-1zM533 182h1v1h-1zM533 184h1v1h-1zM534 184h1v1h-1zM535 185h1v1h-1zM535 186h1v1h-1zM536 185h1v1h-1zM536 186h1v1h-1zM537 186h1v1h-1zM537 187h1v1h-1zM538 186h1v1h-1zM538 187h1v1h-1zM539 186h1v1h-1zM539 187h1v1h-1zM540 186h1v1h-1zM541 186h1v1h-1zM551 162h1v1h-1zM552 162h1v1h-1zM553 162h1v1h-1zM553 163h1v1h-1zM554 162h1v1h-1zM554 163h1v1h-1zM554 164h1v1h-1zM555 165h1v1h-1zM555 166h1v1h-1zM556 167h1v1h-1zM556 168h1v1h-1zM557 170h1v1h-1zM557 171h1v1h-1zM558 172h1v1h-1zM558 174h1v1h-1zM559 174h1v1h-1zM559 175h1v1h-1zM560 176h1v1h-1zM560 177h1v1h-1zM561 178h1v1h-1zM561 179h1v1h-1zM562 178h1v1h-1zM562 179h1v1h-1zM562 180h1v1h-1zM563 175h1v1h-1zM563 176h1v1h-1zM563 177h1v1h-1zM564 173h1v1h-1zM564 174h1v1h-1zM565 172h1v1h-1zM566 173h1v1h-1zM567 173h1v1h-1zM567 174h1v1h-1zM568 172h1v1h-1zM568 173h1v1h-1zM569 170h1v1h-1zM569 171h1v1h-1zM570 168h1v1h-1zM570 169h1v1h-1zM571 168h1v1h-1zM571 169h1v1h-1zM572 168h1v1h-1zM573 168h1v1h-1zM573 169h1v1h-1zM574 169h1v1h-1zM574 170h1v1h-1zM575 162h1v1h-1zM575 166h1v1h-1zM576 155h1v1h-1zM576 161h1v1h-1zM576 162h1v1h-1zM577 155h1v1h-1zM578 155h1v1h-1zM578 159h1v1h-1zM578 163h1v1h-1zM579 164h1v1h-1zM579 166h1v1h-1zM591 168h1v1h-1zM591 169h1v1h-1zM592 168h1v1h-1zM593 167h1v1h-1zM593 168h1v1h-1zM594 166h1v1h-1zM595 166h1v1h-1zM596 166h1v1h-1zM597 166h1v1h-1zM598 166h1v1h-1zM599 166h1v1h-1zM599 167h1v1h-1zM600 167h1v1h-1zM600 168h1v1h-1zM601 169h1v1h-1zM601 170h1v1h-1zM602 170h1v1h-1zM602 171h1v1h-1zM603 171h1v1h-1zM603 172h1v1h-1zM604 171h1v1h-1zM605 169h1v1h-1zM605 170h1v1h-1zM606 168h1v1h-1zM606 169h1v1h-1zM607 166h1v1h-1zM607 167h1v1h-1zM607 168h1v1h-1zM608 164h1v1h-1zM608 165h1v1h-1zM609 162h1v1h-1zM610 141h1v1h-1zM610 149h1v1h-1zM610 156h1v1h-1zM610 160h1v1h-1zM611 123h1v1h-1zM611 132h1v1h-1zM612 117h1v1h-1zM613 116h1v1h-1zM613 117h1v1h-1zM614 117h1v1h-1zM614 118h1v1h-1zM614 121h1v1h-1zM614 124h1v1h-1zM615 125h1v1h-1zM615 127h1v1h-1zM616 129h1v1h-1zM616 130h1v1h-1zM616 131h1v1h-1zM617 131h1v1h-1zM617 132h1v1h-1zM618 133h1v1h-1zM618 134h1v1h-1zM618 136h1v1h-1z"/>
<path shape-rendering="crispEdges" fill="#ff0000" d="M53 212h1v1h-1zM53 213h1v1h-1zM54 211h1v1h-1zM54 212h1v1h-1zM55 210h1v1h-1zM56 209h1v1h-1zM56 210h1v1h-1zM57 208h1v1h-1zM57 209h1v1h-1zM58 207h1v1h-1zM58 208h1v1h-1zM59 206h1v1h-1zM59 207h1v1h-1zM60 204h1v1h-1zM60 206h1v1h-1zM61 204h1v1h-1zM62 206h1v1h-1zM63 206h1v1h-1zM63 209h1v1h-1zM64 207h1v1h-1zM64 211h1v1h-1zM65 204h1v1h-1zM66 203h1v1h-1zM66 204h1v1h-1zM67 204h1v1h-1zM67 207h1v1h-1zM68 207h1v1h-1zM69 206h1v1h-1zM70 204h1v1h-1zM70 205h1v1h-1zM70 207h1v1h-1zM71 204h1v1h-1zM71 205h1v1h-1zM72 205h1v1h-1zM73 204h1v1h-1zM73 205h1v1h-1zM74 204h1v1h-1zM74 206h1v1h-1zM75 206h1v1h-1zM76 206h1v1h-1zM77 200h1v1h-1zM78 199h1v1h-1zM79 205h1v1h-1zM79 206h1v1h-1zM80 206h1v1h-1zM81 205h1v1h-1zM81 206h1v1h-1zM82 200h1v1h-1zM82 201h1v1h-1zM83 201h1v1h-1zM84 202h1v1h-1zM85 203h1v1h-1zM85 204h1v1h-1zM86 204h1v1h-1zM86 205h1v1h-1zM86 206h1v1h-1zM87 207h1v1h-1zM87 208h1v1h-1zM88 210h1v1h-1zM88 211h1v1h-1zM89 212h1v1h-1zM90 213h1v1h-1zM90 214h1v1h-1zM91 216h1v1h-1zM92 217h1v1h-1zM92 218h1v1h-1zM93 218h1v1h-1zM94 218h1v1h-1zM95 219h1v1h-1zM96 218h1v1h-1zM96 219h1v1h-1zM97 217h1v1h-1zM97 218h1v1h-1zM98 215h1v1h-1zM98 216h1v1h-1zM98 217h1v1h-1zM99 214h1v1h-1zM99 215h1v1h-1zM100 213h1v1h-1zM100 214h1v1h-1zM100 215h1v1h-1zM101 212h1v1h-1zM101 213h1v1h-1zM102 208h1v1h-1zM102 210h1v1h-1zM102 212h1v1h-1zM103 197h1v1h-1zM103 205h1v1h-1zM103 206h1v1h-1zM104 180h1v1h-1zM104 190h1v1h-1zM105 179h1v1h-1zM105 180h1v1h-1zM106 180h1v1h-1zM107 180h1v1h-1zM107 181h1v1h-1zM108 182h1v1h-1zM108 184h1v1h-1zM109 185h1v1h-1zM109 187h1v1h-1zM110 190h1v1h-1zM110 191h1v1h-1zM111 193h1v1h-1zM111 195h1v1h-1zM112 196h1v1h-1zM112 198h1v1h-1zM113 198h1v1h-1zM113 199h1v1h-1zM114 200h1v1h-1zM114 201h1v1h-1zM115 201h1v1h-1zM115 203h1v1h-1zM116 202h1v1h-1zM116 204h1v1h-1zM117 192h1v1h-1zM117 195h1v1h-1zM117 200h1v1h-1zM118 181h1v1h-1zM118 189h1v1h-1zM118 190h1v1h-1zM119 194h1v1h-1zM119 196h1v1h-1zM120 196h1v1h-1zM120 197h1v1h-1zM120 198h1v1h-1zM121 196h1v1h-1zM122 194h1v1h-1zM122 195h1v1h-1zM123 193h1v1h-1zM124 192h1v1h-1zM124 193h1v1h-1zM125 193h1v1h-1zM126 195h1v1h-1zM126 196h1v1h-1zM127 192h1v1h-1zM127 197h1v1h-1zM128 178h1v1h-1zM128 185h1v1h-1zM129 169h1v1h-1zM129 172h1v1h-1zM129 174h1v1h-1zM130 158h1v1h-1zM130 160h1v1h-1zM131 157h1v1h-1zM131 158h1v1h-1zM132 155h1v1h-1zM132 156h1v1h-1zM132 157h1v1h-1zM133 131h1v1h-1zM133 133h1v1h-1zM133 139h1v1h-1zM133 147h1v1h-1zM133 155h1v1h-1zM134 136h1v1h-1zM134 142h1v1h-1zM135 150h1v1h-1zM135 151h1v1h-1zM136 151h1v1h-1zM137 153h1v1h-1zM137 154h1v1h-1zM137 155h1v1h-1zM138 156h1v1h-1zM138 157h1v1h-1zM139 158h1v1h-1zM139 159h1v1h-1zM140 159h1v1h-1zM140 160h1v1h-1zM140 161h1v1h-1zM141 162h1v1h-1zM142 163h1v1h-1zM143 163h1v1h-1zM144 162h1v1h-1zM144 163h1v1h-1zM145 163h1v1h-1zM146 163h1v1h-1zM147 157h1v1h-1zM147 158h1v1h-1zM147 162h1v1h-1zM147 163h1v1h-1zM148 156h1v1h-1zM148 157h1v1h-1zM149 155h1v1h-1zM149 156h1v1h-1zM150 154h1v1h-1zM150 155h1v1h-1zM151 155h1v1h-1zM152 155h1v1h-1zM152 156h1v1h-1zM153 156h1v1h-1zM153 157h1v1h-1zM154 158h1v1h-1zM154 160h1v1h-1zM155 161h1v1h-1zM156 162h1v1h-1zM157 163h1v1h-1zM158 164h1v1h-1zM159 165h1v1h-1zM160 145h1v1h-1zM160 156h1v1h-1zM160 166h1v1h-1zM161 149h1v1h-1zM161 159h1v1h-1zM162 165h1v1h-1zM162 171h1v1h-1zM162 172h1v1h-1zM163 173h1v1h-1zM163 174h1v1h-1zM164 176h1v1h-1zM164 178h1v1h-1zM165 179h1v1h-1zM165 180h1v1h-1zM166 182h1v1h-1zM166 183h1v1h-1zM166 184h1v1h-1zM167 185h1v1h-1zM167 186h1v1h-1zM168 187h1v1h-1zM169 186h1v1h-1zM169 187h1v1h-1zM170 187h1v1h-1zM171 187h1v1h-1zM172 184h1v1h-1zM172 188h1v1h-1zM173 188h1v1h-1zM174 188h1v1h-1zM174 189h1v1h-1zM175 188h1v1h-1zM175 189h1v1h-1zM176 188h1v1h-1zM176 189h1v1h-1zM177 187h1v1h-1zM177 188h1v1h-1zM178 186h1v1h-1zM178 187h1v1h-1zM179 185h1v1h-1zM179 186h1v1h-1zM180 183h1v1h-1zM180 184h1v1h-1zM180 186h1v1h-1zM181 182h1v1h-1zM182 181h1v1h-1zM182 182h1v1h-1zM183 181h1v1h-1zM184 180h1v1h-1zM185 177h1v1h-1zM185 178h1v1h-1zM186 171h1v1h-1zM186 176h1v1h-1zM186 178h1v1h-1zM187 162h1v1h-1zM187 167h1v1h-1zM188 153h1v1h-1zM188 158h1v1h-1zM189 145h1v1h-1zM189 146h1v1h-1zM189 149h1v1h-1zM190 146h1v1h-1zM190 147h1v1h-1zM191 149h1v1h-1zM191 151h1v1h-1zM192 152h1v1h-1zM193 154h1v1h-1zM193 155h1v1h-1zM193 156h1v1h-1zM194 155h1v1h-1zM194 157h1v1h-1zM195 158h1v1h-1zM195 159h1v1h-1zM196 161h1v1h-1zM197 163h1v1h-1zM197 164h1v1h-1zM197 165h1v1h-1zM198 166h1v1h-1zM198 167h1v1h-1zM199 168h1v1h-1zM199 169h1v1h-1zM200 170h1v1h-1zM200 172h1v1h-1zM201 173h1v1h-1zM201 174h1v1h-1zM202 174h1v1h-1zM202 175h1v1h-1zM203 176h1v1h-1zM203 177h1v1h-1zM204 172h1v1h-1zM204 173h1v1h-1zM204 174h1v1h-1zM205 169h1v1h-1zM205 171h1v1h-1zM206 169h1v1h-1zM206 170h1v1h-1zM207 171h1v1h-1zM207 172h1v1h-1zM207 173h1v1h-1zM208 175h1v1h-1zM209 177h1v1h-1zM209 179h1v1h-1zM210 180h1v1h-1zM210 181h1v1h-1zM211 180h1v1h-1zM211 181h1v1h-1zM212 177h1v1h-1zM212 179h1v1h-1zM212 181h1v1h-1zM213 174h1v1h-1zM213 176h1v1h-1zM214 170h1v1h-1zM214 172h1v1h-1zM214 173h1v1h-1zM215 166h1v1h-1zM215 168h1v1h-1zM216 151h1v1h-1zM216 163h1v1h-1zM216 164h1v1h-1zM217 148h1v1h-1zM217 149h1v1h-1zM218 150h1v1h-1zM218 153h1v1h-1zM219 155h1v1h-1zM219 157h1v1h-1zM220 159h1v1h-1zM220 161h1v1h-1zM220 164h1v1h-1zM220 165h1v1h-1zM221 164h1v1h-1zM222 164h1v1h-1zM222 165h1v1h-1zM223 165h1v1h-1zM224 167h1v1h-1zM224 168h1v1h-1zM224 169h1v1h-1zM225 171h1v1h-1zM225 172h1v1h-1zM226 174h1v1h-1zM226 175h1v1h-1zM226 177h1v1h-1zM227 178h1v1h-1zM227 180h1v1h-1zM227 181h1v1h-1zM228 183h1v1h-1zM228 185h1v1h-1zM229 187h1v1h-1zM229 188h1v1h-1zM230 190h1v1h-1zM231 192h1v1h-1zM231 194h1v1h-1zM232 195h1v1h-1zM232 197h1v1h-1zM233 198h1v1h-1zM233 199h1v1h-1zM233 200h1v1h-1zM234 200h1v1h-1zM234 201h1v1h-1zM235 202h1v1h-1zM235 203h1v1h-1zM236 201h1v1h-1zM236 202h1v1h-1zM237 200h1v1h-1zM238 199h1v1h-1zM238 200h1v1h-1zM239 200h1v1h-1zM240 201h1v1h-1zM240 202h1v1h-1zM241 202h1v1h-1zM241 204h1v1h-1zM242 204h1v1h-1zM242 205h1v1h-1zM243 205h1v1h-1zM243 206h1v1h-1zM244 206h1v1h-1zM244 207h1v1h-1zM245 207h1v1h-1zM245 208h1v1h-1zM246 207h1v1h-1zM246 208h1v1h-1zM247 207h1v1h-1zM247 208h1v1h-1zM248 208h1v1h-1zM249 207h1v1h-1zM249 208h1v1h-1zM249 209h1v1h-1zM250 206h1v1h-1zM250 207h1v1h-1zM251 205h1v1h-1zM251 206h1v1h-1zM252 202h1v1h-1zM252 203h1v1h-1zM252 204h1v1h-1zM253 200h1v1h-1zM253 201h1v1h-1zM254 198h1v1h-1zM254 200h1v1h-1zM255 198h1v1h-1zM255 199h1v1h-1zM256 198h1v1h-1zM256 199h1v1h-1zM257 198h1v1h-1zM257 200h1v1h-1zM258 196h1v1h-1zM258 198h1v1h-1zM258 199h1v1h-1zM258 200h1v1h-1zM259 195h1v1h-1zM260 193h1v1h-1zM261 190h1v1h-1zM261 191h1v1h-1zM261 192h1v1h-1zM262 190h1v1h-1zM263 188h1v1h-1zM263 189h1v1h-1zM264 187h1v1h-1zM264 188h1v1h-1zM265 185h1v1h-1zM265 186h1v1h-1zM265 187h1v1h-1zM265 188h1v1h-1zM266 181h1v1h-1zM266 183h1v1h-1zM267 176h1v1h-1zM268 176h1v1h-1zM268 177h1v1h-1zM269 177h1v1h-1zM270 177h1v1h-1zM270 178h1v1h-1zM271 178h1v1h-1zM271 179h1v1h-1zM272 178h1v1h-1zM272 179h1v1h-1zM272 180h1v1h-1zM273 180h1v1h-1zM273 181h1v1h-1zM274 181h1v1h-1zM275 182h1v1h-1zM275 183h1v1h-1zM276 184h1v1h-1zM277 186h1v1h-1zM278 179h1v1h-1zM278 181h1v1h-1zM278 186h1v1h-1zM278 187h1v1h-1zM279 177h1v1h-1zM279 179h1v1h-1zM280 177h1v1h-1zM280 178h1v1h-1zM280 179h1v1h-1zM281 180h1v1h-1zM281 181h1v1h-1zM282 182h1v1h-1zM282 183h1v1h-1zM282 184h1v1h-1zM283 185h1v1h-1zM283 186h1v1h-1zM284 187h1v1h-1zM284 188h1v1h-1zM285 182h1v1h-1zM285 183h1v1h-1zM285 185h1v1h-1zM285 189h1v1h-1zM286 179h1v1h-1zM286 181h1v1h-1zM287 178h1v1h-1zM287 180h1v1h-1zM288 181h1v1h-1zM288 182h1v1h-1zM289 182h1v1h-1zM289 183h1v1h-1zM290 181h1v1h-1zM290 183h1v1h-1zM290 185h1v1h-1zM291 179h1v1h-1zM291 180h1v1h-1zM292 160h1v1h-1zM292 168h1v1h-1zM292 175h1v1h-1zM292 179h1v1h-1zM293 158h1v1h-1zM293 167h1v1h-1zM294 171h1v1h-1zM294 175h1v1h-1zM294 181h1v1h-1zM294 182h1v1h-1zM295 184h1v1h-1zM296 186h1v1h-1zM296 187h1v1h-1zM297 189h1v1h-1zM297 191h1v1h-1zM298 193h1v1h-1zM298 194h1v1h-1zM299 195h1v1h-1zM299 196h1v1h-1zM299 197h1v1h-1zM300 198h1v1h-1zM301 197h1v1h-1zM301 199h1v1h-1zM301 200h1v1h-1zM301 201h1v1h-1zM302 194h1v1h-1zM302 195h1v1h-1zM303 192h1v1h-1zM303 193h1v1h-1zM303 195h1v1h-1zM304 196h1v1h-1zM304 197h1v1h-1zM305 195h1v1h-1zM305 196h1v1h-1zM305 197h1v1h-1zM305 199h1v1h-1zM306 195h1v1h-1zM307 193h1v1h-1zM307 194h1v1h-1zM308 192h1v1h-1zM308 193h1v1h-1zM309 192h1v1h-1zM309 193h1v1h-1zM310 186h1v1h-1zM310 188h1v1h-1zM310 189h1v1h-1zM311 185h1v1h-1zM311 186h1v1h-1zM312 182h1v1h-1zM312 183h1v1h-1zM313 183h1v1h-1zM314 183h1v1h-1zM314 184h1v1h-1zM314 185h1v1h-1zM315 185h1v1h-1zM315 186h1v1h-1zM316 187h1v1h-1zM316 188h1v1h-1zM317 189h1v1h-1zM317 190h1v1h-1zM318 191h1v1h-1zM318 192h1v1h-1zM319 194h1v1h-1zM319 195h1v1h-1zM319 196h1v1h-1zM320 197h1v1h-1zM321 198h1v1h-1zM322 199h1v1h-1zM322 200h1v1h-1zM323 199h1v1h-1zM324 199h1v1h-1zM325 202h1v1h-1zM326 203h1v1h-1zM327 202h1v1h-1zM327 203h1v1h-1zM327 204h1v1h-1zM328 200h1v1h-1zM328 201h1v1h-1zM329 197h1v1h-1zM329 200h1v1h-1zM329 201h1v1h-1zM330 201h1v1h-1zM331 201h1v1h-1zM332 199h1v1h-1zM332 200h1v1h-1zM332 201h1v1h-1zM333 197h1v1h-1zM333 198h1v1h-1zM334 194h1v1h-1zM334 195h1v1h-1zM334 196h1v1h-1zM335 192h1v1h-1zM335 193h1v1h-1zM336 192h1v1h-1zM337 192h1v1h-1zM337 193h1v1h-1zM338 194h1v1h-1zM338 195h1v1h-1zM339 196h1v1h-1zM339 198h1v1h-1zM340 198h1v1h-1zM340 199h1v1h-1zM341 198h1v1h-1zM342 197h1v1h-1zM343 197h1v1h-1zM344 197h1v1h-1zM344 199h1v1h-1zM345 199h1v1h-1zM345 200h1v1h-1zM346 198h1v1h-1zM346 200h1v1h-1zM347 196h1v1h-1zM347 197h1v1h-1zM348 195h1v1h-1zM349 195h1v1h-1zM349 196h1v1h-1zM350 197h1v1h-1zM350 198h1v1h-1zM351 199h1v1h-1zM352 198h1v1h-1zM352 200h1v1h-1zM352 201h1v1h-1zM353 196h1v1h-1zM353 198h1v1h-1zM354 194h1v1h-1zM354 195h1v1h-1zM355 184h1v1h-1zM355 193h1v1h-1zM355 194h1v1h-1zM356 152h1v1h-1zM356 162h1v1h-1zM356 173h1v1h-1zM357 120h1v1h-1zM357 125h1v1h-1zM357 132h1v1h-1zM357 139h1v1h-1zM357 146h1v1h-1zM358 116h1v1h-1zM358 118h1v1h-1zM359 111h1v1h-1zM359 113h1v1h-1zM360 111h1v1h-1zM361 112h1v1h-1zM361 115h1v1h-1zM362 117h1v1h-1zM362 119h1v1h-1zM362 123h1v1h-1zM363 125h1v1h-1zM363 127h1v1h-1zM363 136h1v1h-1zM364 132h1v1h-1zM364 138h1v1h-1zM364 140h1v1h-1zM364 143h1v1h-1zM365 145h1v1h-1zM365 146h1v1h-1zM365 149h1v1h-1zM365 153h1v1h-1zM366 154h1v1h-1zM366 156h1v1h-1zM366 159h1v1h-1zM367 160h1v1h-1zM367 161h1v1h-1zM367 164h1v1h-1zM367 166h1v1h-1zM368 166h1v1h-1zM368 167h1v1h-1zM369 168h1v1h-1zM369 169h1v1h-1zM370 170h1v1h-1zM370 171h1v1h-1zM371 172h1v1h-1zM371 174h1v1h-1zM372 175h1v1h-1zM372 177h1v1h-1zM373 179h1v1h-1zM373 180h1v1h-1zM374 181h1v1h-1zM374 182h1v1h-1zM374 184h1v1h-1zM375 186h1v1h-1zM375 188h1v1h-1zM376 190h1v1h-1zM377 191h1v1h-1zM378 192h1v1h-1zM379 191h1v1h-1zM379 192h1v1h-1zM380 191h1v1h-1zM380 192h1v1h-1zM381 191h1v1h-1zM382 191h1v1h-1zM383 191h1v1h-1zM383 192h1v1h-1zM384 192h1v1h-1zM384 193h1v1h-1zM385 193h1v1h-1zM385 194h1v1h-1zM386 195h1v1h-1zM387 194h1v1h-1zM387 195h1v1h-1zM387 196h1v1h-1zM388 192h1v1h-1zM388 193h1v1h-1zM389 185h1v1h-1zM389 186h1v1h-1zM389 188h1v1h-1zM389 191h1v1h-1zM390 182h1v1h-1zM390 183h1v1h-1zM391 177h1v1h-1zM391 179h1v1h-1zM391 181h1v1h-1zM392 173h1v1h-1zM392 175h1v1h-1zM393 170h1v1h-1zM393 172h1v1h-1zM394 165h1v1h-1zM394 166h1v1h-1zM394 169h1v1h-1zM395 165h1v1h-1zM396 165h1v1h-1zM397 165h1v1h-1zM398 165h1v1h-1zM398 166h1v1h-1zM399 166h1v1h-1zM399 167h1v1h-1zM400 167h1v1h-1zM400 169h1v1h-1zM400 170h1v1h-1zM401 170h1v1h-1zM401 171h1v1h-1zM402 172h1v1h-1zM402 174h1v1h-1zM402 175h1v1h-1zM403 175h1v1h-1zM403 176h1v1h-1zM404 177h1v1h-1zM404 178h1v1h-1zM405 178h1v1h-1zM405 180h1v1h-1zM405 181h1v1h-1zM406 183h1v1h-1zM406 185h1v1h-1zM406 186h1v1h-1zM407 187h1v1h-1zM407 188h1v1h-1zM408 190h1v1h-1zM408 191h1v1h-1zM409 193h1v1h-1zM409 194h1v1h-1zM410 195h1v1h-1zM410 198h1v1h-1zM410 199h1v1h-1zM411 199h1v1h-1zM412 200h1v1h-1zM412 201h1v1h-1zM413 201h1v1h-1zM414 201h1v1h-1zM414 202h1v1h-1zM415 178h1v1h-1zM415 185h1v1h-1zM415 193h1v1h-1zM415 197h1v1h-1zM416 170h1v1h-1zM416 173h1v1h-1zM416 178h1v1h-1zM417 181h1v1h-1zM417 183h1v1h-1zM417 188h1v1h-1zM417 191h1v1h-1zM417 192h1v1h-1zM418 193h1v1h-1zM418 194h1v1h-1zM419 195h1v1h-1zM419 197h1v1h-1zM419 198h1v1h-1zM420 199h1v1h-1zM420 200h1v1h-1zM421 202h1v1h-1zM421 203h1v1h-1zM422 203h1v1h-1zM422 204h1v1h-1zM423 205h1v1h-1zM424 206h1v1h-1zM425 207h1v1h-1zM426 208h1v1h-1zM427 206h1v1h-1zM427 207h1v1h-1zM428 204h1v1h-1zM428 206h1v1h-1zM429 204h1v1h-1zM429 205h1v1h-1zM430 204h1v1h-1zM431 204h1v1h-1zM431 205h1v1h-1zM432 203h1v1h-1zM432 204h1v1h-1zM433 204h1v1h-1zM434 203h1v1h-1zM434 204h1v1h-1zM435 201h1v1h-1zM435 203h1v1h-1zM436 195h1v1h-1zM436 198h1v1h-1zM437 196h1v1h-1zM437 197h1v1h-1zM438 198h1v1h-1zM439 199h1v1h-1zM440 200h1v1h-1zM441 199h1v1h-1zM441 200h1v1h-1zM441 201h1v1h-1zM442 197h1v1h-1zM442 199h1v1h-1zM443 194h1v1h-1zM443 195h1v1h-1zM443 197h1v1h-1zM444 194h1v1h-1zM445 193h1v1h-1zM445 194h1v1h-1zM446 193h1v1h-1zM447 193h1v1h-1zM448 192h1v1h-1zM448 193h1v1h-1zM449 192h1v1h-1zM450 184h1v1h-1zM450 190h1v1h-1zM450 192h1v1h-1zM451 182h1v1h-1zM451 183h1v1h-1zM451 184h1v1h-1zM452 185h1v1h-1zM452 186h1v1h-1zM453 188h1v1h-1zM453 189h1v1h-1zM454 186h1v1h-1zM454 187h1v1h-1zM454 190h1v1h-1zM455 185h1v1h-1zM456 179h1v1h-1zM456 180h1v1h-1zM456 185h1v1h-1zM456 186h1v1h-1zM457 179h1v1h-1zM458 178h1v1h-1zM459 178h1v1h-1zM460 177h1v1h-1zM461 177h1v1h-1zM461 178h1v1h-1zM461 179h1v1h-1zM462 180h1v1h-1zM463 180h1v1h-1zM463 181h1v1h-1zM464 178h1v1h-1zM464 180h1v1h-1zM464 181h1v1h-1zM464 182h1v1h-1zM465 178h1v1h-1zM466 176h1v1h-1zM467 175h1v1h-1zM467 176h1v1h-1zM467 177h1v1h-1zM468 178h1v1h-1zM468 180h1v1h-1zM469 182h1v1h-1zM470 184h1v1h-1zM470 185h1v1h-1zM470 186h1v1h-1zM471 187h1v1h-1zM471 188h1v1h-1zM472 190h1v1h-1zM472 191h1v1h-1zM473 192h1v1h-1zM473 193h1v1h-1zM474 193h1v1h-1zM474 195h1v1h-1zM475 188h1v1h-1zM475 189h1v1h-1zM475 192h1v1h-1zM476 188h1v1h-1zM477 187h1v1h-1zM477 189h1v1h-1zM477 190h1v1h-1zM478 190h1v1h-1zM478 192h1v1h-1zM479 193h1v1h-1zM480 190h1v1h-1zM480 191h1v1h-1zM480 195h1v1h-1zM481 188h1v1h-1zM481 189h1v1h-1zM482 186h1v1h-1zM482 187h1v1h-1zM483 188h1v1h-1zM483 189h1v1h-1zM484 189h1v1h-1zM484 190h1v1h-1zM484 192h1v1h-1zM485 192h1v1h-1zM485 193h1v1h-1zM486 195h1v1h-1zM486 196h1v1h-1zM487 197h1v1h-1zM487 198h1v1h-1zM488 197h1v1h-1zM488 199h1v1h-1zM489 187h1v1h-1zM489 195h1v1h-1zM489 196h1v1h-1zM490 188h1v1h-1zM490 189h1v1h-1zM490 190h1v1h-1zM491 191h1v1h-1zM491 193h1v1h-1zM492 194h1v1h-1zM492 195h1v1h-1zM493 194h1v1h-1zM493 195h1v1h-1zM494 193h1v1h-1zM494 194h1v1h-1zM495 192h1v1h-1zM495 193h1v1h-1zM496 192h1v1h-1zM497 191h1v1h-1zM498 190h1v1h-1zM498 191h1v1h-1zM499 190h1v1h-1zM499 192h1v1h-1zM500 193h1v1h-1zM500 194h1v1h-1zM501 196h1v1h-1zM501 197h1v1h-1zM502 198h1v1h-1zM502 199h1v1h-1zM503 200h1v1h-1zM503 201h1v1h-1zM504 198h1v1h-1zM504 200h1v1h-1zM504 202h1v1h-1zM505 188h1v1h-1zM505 194h1v1h-1zM505 196h1v1h-1zM506 158h1v1h-1zM506 168h1v1h-1zM506 178h1v1h-1zM506 183h1v1h-1zM507 148h1v1h-1zM507 153h1v1h-1zM508 150h1v1h-1zM508 153h1v1h-1zM509 155h1v1h-1zM509 158h1v1h-1zM509 162h1v1h-1zM510 163h1v1h-1zM510 164h1v1h-1zM510 167h1v1h-1zM511 167h1v1h-1zM511 168h1v1h-1zM512 170h1v1h-1zM512 172h1v1h-1zM513 175h1v1h-1zM513 177h1v1h-1zM513 178h1v1h-1zM514 178h1v1h-1zM514 180h1v1h-1zM515 180h1v1h-1zM515 182h1v1h-1zM516 183h1v1h-1zM516 184h1v1h-1zM516 185h1v1h-1zM517 187h1v1h-1zM517 188h1v1h-1zM518 190h1v1h-1zM518 191h1v1h-1zM518 192h1v1h-1zM519 193h1v1h-1zM519 194h1v1h-1zM520 196h1v1h-1zM521 197h1v1h-1zM521 198h1v1h-1zM522 199h1v1h-1zM522 200h1v1h-1zM523 200h1v1h-1zM523 201h1v1h-1zM524 201h1v1h-1zM525 199h1v1h-1zM525 200h1v1h-1zM525 202h1v1h-1zM526 197h1v1h-1zM526 198h1v1h-1zM527 194h1v1h-1zM527 196h1v1h-1zM528 189h1v1h-1zM528 193h1v1h-1zM529 184h1v1h-1zM529 186h1v1h-1zM530 186h1v1h-1zM530 189h1v1h-1zM531 191h1v1h-1zM531 194h1v1h-1zM531 195h1v1h-1zM532 197h1v1h-1zM532 198h1v1h-1zM533 200h1v1h-1zM533 201h1v1h-1zM534 202h1v1h-1zM535 202h1v1h-1zM535 203h1v1h-1zM536 202h1v1h-1zM536 203h1v1h-1zM537 201h1v1h-1zM537 202h1v1h-1zM537 203h1v1h-1zM538 201h1v1h-1zM539 199h1v1h-1zM539 201h1v1h-1zM540 199h1v1h-1zM541 196h1v1h-1zM541 199h1v1h-1zM542 186h1v1h-1zM542 191h1v1h-1zM542 194h1v1h-1zM543 174h1v1h-1zM543 178h1v1h-1zM543 182h1v1h-1zM543 184h1v1h-1zM544 159h1v1h-1zM544 168h1v1h-1zM544 171h1v1h-1zM545 155h1v1h-1zM545 157h1v1h-1zM546 156h1v1h-1zM547 157h1v1h-1zM547 158h1v1h-1zM548 160h1v1h-1zM549 161h1v1h-1zM550 162h1v1h-1zM550 164h1v1h-1zM550 165h1v1h-1zM550 166h1v1h-1zM551 167h1v1h-1zM551 168h1v1h-1zM552 170h1v1h-1zM552 171h1v1h-1zM552 172h1v1h-1zM553 173h1v1h-1zM553 175h1v1h-1zM553 176h1v1h-1zM554 177h1v1h-1zM554 178h1v1h-1zM555 180h1v1h-1zM555 181h1v1h-1zM555 182h1v1h-1zM556 183h1v1h-1zM556 185h1v1h-1zM557 193h1v1h-1zM557 194h1v1h-1zM558 195h1v1h-1zM559 197h1v1h-1zM560 197h1v1h-1zM561 197h1v1h-1zM561 198h1v1h-1zM562 196h1v1h-1zM563 193h1v1h-1zM563 195h1v1h-1zM564 187h1v1h-1zM564 191h1v1h-1zM565 185h1v1h-1zM565 186h1v1h-1zM566 185h1v1h-1zM566 187h1v1h-1zM567 186h1v1h-1zM567 187h1v1h-1zM567 188h1v1h-1zM567 189h1v1h-1zM568 185h1v1h-1zM568 186h1v1h-1zM569 183h1v1h-1zM569 184h1v1h-1zM569 185h1v1h-1zM570 183h1v1h-1zM571 182h1v1h-1zM571 183h1v1h-1zM572 184h1v1h-1zM572 185h1v1h-1zM573 185h1v1h-1zM573 187h1v1h-1zM574 178h1v1h-1zM574 180h1v1h-1zM574 183h1v1h-1zM574 187h1v1h-1zM574 188h1v1h-1zM575 173h1v1h-1zM575 175h1v1h-1zM576 159h1v1h-1zM576 166h1v1h-1zM577 152h1v1h-1zM577 156h1v1h-1zM578 161h1v1h-1zM578 170h1v1h-1zM578 179h1v1h-1zM579 182h1v1h-1zM579 183h1v1h-1zM580 181h1v1h-1zM580 182h1v1h-1zM581 179h1v1h-1zM581 180h1v1h-1zM581 181h1v1h-1zM582 179h1v1h-1zM583 172h1v1h-1zM583 178h1v1h-1zM584 173h1v1h-1zM584 178h1v1h-1zM585 173h1v1h-1zM585 174h1v1h-1zM586 176h1v1h-1zM587 178h1v1h-1zM588 180h1v1h-1zM588 181h1v1h-1zM589 181h1v1h-1zM589 182h1v1h-1zM590 183h1v1h-1zM591 183h1v1h-1zM591 184h1v1h-1zM592 183h1v1h-1zM593 183h1v1h-1zM594 182h1v1h-1zM595 182h1v1h-1zM595 183h1v1h-1zM596 184h1v1h-1zM596 185h1v1h-1zM597 186h1v1h-1zM597 187h1v1h-1zM598 185h1v1h-1zM598 187h1v1h-1zM598 188h1v1h-1zM599 183h1v1h-1zM599 184h1v1h-1zM600 182h1v1h-1zM601 188h1v1h-1zM601 189h1v1h-1zM602 190h1v1h-1zM603 191h1v1h-1zM603 192h1v1h-1zM604 189h1v1h-1zM604 191h1v1h-1zM604 192h1v1h-1zM605 187h1v1h-1zM605 188h1v1h-1zM605 189h1v1h-1zM606 185h1v1h-1zM606 186h1v1h-1zM607 182h1v1h-1zM607 183h1v1h-1zM607 185h1v1h-1zM608 179h1v1h-1zM608 180h1v1h-1zM609 175h1v1h-1zM609 176h1v1h-1zM609 178h1v1h-1zM610 125h1v1h-1zM610 133h1v1h-1zM610 143h1v1h-1zM610 152h1v1h-1zM610 162h1v1h-1zM610 172h1v1h-1zM610 173h1v1h-1zM611 99h1v1h-1zM611 105h1v1h-1zM611 109h1v1h-1zM611 117h1v1h-1zM612 101h1v1h-1zM612 103h1v1h-1zM612 112h1v1h-1zM613 113h1v1h-1zM613 114h1v1h-1zM613 121h1v1h-1zM614 124h1v1h-1zM614 127h1v1h-1zM614 131h1v1h-1zM614 135h1v1h-1zM615 137h1v1h-1zM615 139h1v1h-1zM615 142h1v1h-1zM616 143h1v1h-1zM617 145h1v1h-1zM617 146h1v1h-1zM617 148h1v1h-1zM618 149h1v1h-1zM618 151h1v1h-1zM619 152h1v1h-1zM619 154h1v1h-1zM619 155h1v1h-1zM620 157h1v1h-1zM620 158h1v1h-1zM621 160h1v1h-1zM621 162h1v1h-1zM621 163h1v1h-1zM622 164h1v1h-1zM622 166h1v1h-1zM623 167h1v1h-1zM623 169h1v1h-1z"/>
<text x="157.50" y="20.00" font-size="14" textLength="31.97" lengthAdjust="spacingAndGlyphs">GOES</text>
<text x="195.50" y="20.00" font-size="14" textLength="69.09" lengthAdjust="spacingAndGlyphs">0.1−0.8nm</text>
<text x="271.04" y="20.00" font-size="14" textLength="35.10" lengthAdjust="spacingAndGlyphs">(red),</text>
<text x="312.50" y="20.00" font-size="14" textLength="28.66" lengthAdjust="spacingAndGlyphs">LYRA</text>
<text x="346.84" y="20.00" font-size="14" textLength="10.67" lengthAdjust="spacingAndGlyphs">Al</text>
<text x="364.17" y="20.00" font-size="14" textLength="35.94" lengthAdjust="spacingAndGlyphs">(blue)</text>
<text x="406.44" y="20.00" font-size="14" textLength="9.78" lengthAdjust="spacingAndGlyphs">&amp;</text>
<text x="423.80" y="20.00" font-size="14" textLength="13.43" lengthAdjust="spacingAndGlyphs">Zr</text>
<text x="443.31" y="20.00" font-size="14" textLength="36.24" lengthAdjust="spacingAndGlyphs">(grey)</text>
<text x="486.07" y="20.00" font-size="14" textLength="33.21" lengthAdjust="spacingAndGlyphs">proxy</text>
<text x="267.00" y="470.00" font-size="9.8" textLength="22.67" lengthAdjust="spacingAndGlyphs">Time</text>
<text x="306.55" y="470.00" font-size="9.8" textLength="5.37" lengthAdjust="spacingAndGlyphs">h</text>
<text x="317.52" y="470.00" font-size="9.8" textLength="22.04" lengthAdjust="spacingAndGlyphs">UTC,</text>
<text x="345.12" y="470.00" font-size="9.8" textLength="12.27" lengthAdjust="spacingAndGlyphs">10</text>
<text x="363.04" y="470.00" font-size="9.8" textLength="15.44" lengthAdjust="spacingAndGlyphs">Jan</text>
<text x="384.30" y="470.00" font-size="9.8" textLength="24.95" lengthAdjust="spacingAndGlyphs">2024</text>
<text x="488.50" y="495.00" font-size="11.2" textLength="20.18" lengthAdjust="spacingAndGlyphs">ROB</text>
<text x="516.50" y="495.00" font-size="11.2" textLength="27.08" lengthAdjust="spacingAndGlyphs">SIDC,</text>
<text x="549.15" y="495.00" font-size="11.2" textLength="45.82" lengthAdjust="spacingAndGlyphs">Brussels,</text>
<text x="601.98" y="495.00" font-size="11.2" textLength="40.00" lengthAdjust="spacingAndGlyphs">Belgium</text>
<text x="48.50" y="458.00" font-size="10.2" textLength="7.11" lengthAdjust="spacingAndGlyphs">0</text>
<text x="168.87" y="458.00" font-size="10.2" textLength="5.32" lengthAdjust="spacingAndGlyphs">5</text>
<text x="285.13" y="458.00" font-size="10.2" textLength="11.12" lengthAdjust="spacingAndGlyphs">10</text>
<text x="404.08" y="458.00" font-size="10.2" textLength="12.40" lengthAdjust="spacingAndGlyphs">15</text>
<text x="522.45" y="458.00" font-size="10.2" textLength="12.61" lengthAdjust="spacingAndGlyphs">20</text>
<text x="33.43" y="30.00" font-size="8.4" textLength="8.80" lengthAdjust="spacingAndGlyphs">10</text>
<text x="42.88" y="26.00" font-size="5.6" textLength="6.90" lengthAdjust="spacingAndGlyphs">−4</text>
<text x="33.43" y="133.00" font-size="8.4" textLength="8.80" lengthAdjust="spacingAndGlyphs">10</text>
<text x="42.95" y="129.00" font-size="5.6" textLength="7.01" lengthAdjust="spacingAndGlyphs">−5</text>
<text x="33.43" y="238.00" font-size="8.4" textLength="8.80" lengthAdjust="spacingAndGlyphs">10</text>
<text x="42.94" y="234.00" font-size="5.6" textLength="7.04" lengthAdjust="spacingAndGlyphs">−6</text>
<text x="33.43" y="343.00" font-size="8.4" textLength="8.80" lengthAdjust="spacingAndGlyphs">10</text>
<text x="42.98" y="339.00" font-size="5.6" textLength="7.26" lengthAdjust="spacingAndGlyphs">−7</text>
<text x="33.43" y="445.00" font-size="8.4" textLength="8.80" lengthAdjust="spacingAndGlyphs">10</text>
<text x="42.89" y="441.00" font-size="5.6" textLength="7.05" lengthAdjust="spacingAndGlyphs">−8</text>
<text x="631.50" y="80.00" font-size="11.2" textLength="7.74" lengthAdjust="spacingAndGlyphs">M</text>
<text x="631.50" y="185.00" font-size="11.2" textLength="7.15" lengthAdjust="spacingAndGlyphs">C</text>
<text x="631.50" y="290.00" font-size="11.2" textLength="7.24" lengthAdjust="spacingAndGlyphs">B</text>
<text x="632.25" y="395.00" font-size="11.2" textLength="6.16" lengthAdjust="spacingAndGlyphs">A</text>
<text transform="translate(26.50,288.54) rotate(-90)" font-size="9.8" textLength="19.33" lengthAdjust="spacingAndGlyphs">GOES</text>
<text transform="translate(26.50,265.04) rotate(-90)" font-size="9.8" textLength="38.78" lengthAdjust="spacingAndGlyphs">Irradiance</text>
<text transform="translate(26.50,212.10) rotate(-90)" font-size="9.8" textLength="10.15" lengthAdjust="spacingAndGlyphs">(W</text>
<text transform="translate(26.50,197.71) rotate(-90)" font-size="9.8" textLength="6.42" lengthAdjust="spacingAndGlyphs">m</text>
<text transform="translate(26.50,182.77) rotate(-90)" font-size="9.8" textLength="2.59" lengthAdjust="spacingAndGlyphs">)</text>
<text transform="translate(22.50,190.83) rotate(-90)" font-size="5.6" textLength="6.52" lengthAdjust="spacingAndGlyphs">−2</text>
<text transform="translate(294.88,472.50) skewX(-8)" font-size="15.7">/</text>
<text transform="translate(508.88,497.50) skewX(-8)" font-size="15.7">/</text>
<text transform="translate(28.00,221.69) rotate(-90) skewX(-16)" font-size="12.3">/</text>
</svg></body></html>
